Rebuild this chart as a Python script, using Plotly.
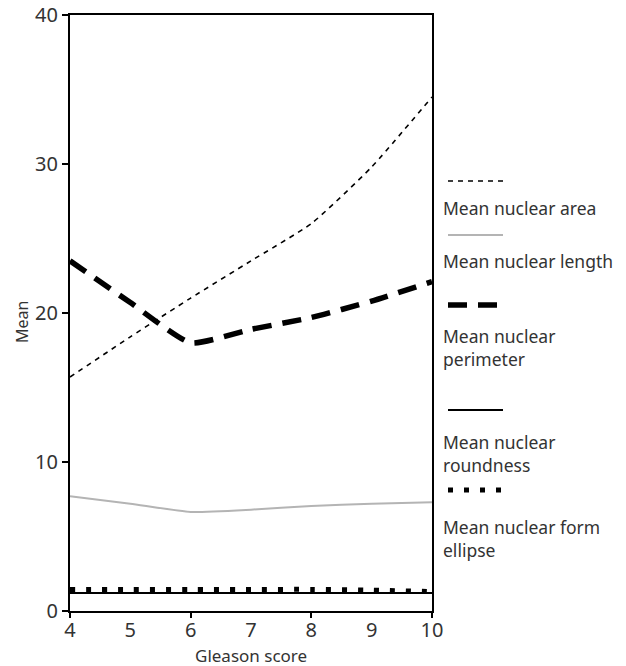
import plotly.graph_objects as go

gleason = [4, 5, 6, 7, 8, 9, 10]
area = [15.7, 18.4, 21.0, 23.5, 26.0, 29.8, 34.5]
length = [7.7, 7.2, 6.65, 6.8, 7.05, 7.2, 7.3]
perimeter = [23.5, 20.7, 18.0, 18.9, 19.7, 20.8, 22.1]
roundness = [1.2, 1.2, 1.2, 1.2, 1.2, 1.2, 1.2]
form_ellipse = [1.45, 1.45, 1.45, 1.45, 1.45, 1.4, 1.3]

x_ticks = [4, 5, 6, 7, 8, 9, 10]
x_marks = [4, 6, 8, 10]
y_ticks = [0, 10, 20, 30, 40]

names = ["Mean nuclear area", "Mean nuclear length", "Mean nuclear<br>perimeter",
         "Mean nuclear<br>roundness", "Mean nuclear form<br>ellipse"]
styles = [
    dict(color="black", width=1.6, dash="5px,5px"),
    dict(color="#b4b4b4", width=2),
    dict(color="black", width=5.5, dash="19px,11px"),
    dict(color="black", width=2),
    dict(color="black", width=5, dash="5px,11px"),
]
series = [area, length, perimeter, roundness, form_ellipse]

FONT = "Noto Sans"
TXT = "#333"
fig = go.Figure()
for s, st, n in zip(series, styles, names):
    fig.add_trace(go.Scatter(x=gleason, y=s, mode="lines", line=dict(shape="spline", smoothing=0.5, **st),
                             name=n, showlegend=False, hoverinfo="skip"))

# invisible trace for secondary tick-mark axis
fig.add_trace(go.Scatter(x=gleason, y=roundness, xaxis="x2", mode="lines",
                         line=dict(width=0), showlegend=False, hoverinfo="skip"))

# custom legend: sample line above text
W, H = 626, 666
l, r, t, b = 70, 194, 15, 55
pw, ph = W - l - r, H - t - b
def px(x): return (x - l) / pw
def py(y): return (H - b - y) / ph

leg_line_y = [181, 235, 305, 410, 490]
leg_text_y = [208, 261, 347, 453, 538]
shapes = []
annotations = []
for st, ly, ty, n in zip(styles, leg_line_y, leg_text_y, names):
    shapes.append(dict(type="line", xref="paper", yref="paper", x0=px(448), x1=px(503),
                       y0=py(ly), y1=py(ly), line=st))
    annotations.append(dict(xref="paper", yref="paper", x=px(441), y=py(ty), text=n,
                            showarrow=False, xanchor="left", yanchor="middle", align="left",
                            font=dict(family=FONT, size=17.5, color=TXT)))

annotations.append(dict(xref="paper", yref="paper", x=px(251), y=py(655), text="Gleason score",
                        showarrow=False, xanchor="center", yanchor="middle",
                        font=dict(family=FONT, size=17, color=TXT)))
annotations.append(dict(xref="paper", yref="paper", x=px(22), y=py(322), text="Mean", textangle=-90,
                        showarrow=False, xanchor="center", yanchor="middle",
                        font=dict(family=FONT, size=16, color=TXT)))

fig.update_layout(
    width=W, height=H, margin=dict(l=l, r=r, t=t, b=b),
    plot_bgcolor="white", paper_bgcolor="white",
    shapes=shapes, annotations=annotations,
    xaxis=dict(range=[4, 10], tickvals=x_ticks, ticks="", showgrid=False, zeroline=False,
               showline=True, linecolor="black", linewidth=2, mirror=True, automargin=False,
               tickfont=dict(family=FONT, size=20, color=TXT)),
    xaxis2=dict(range=[4, 10], overlaying="x", side="bottom", tickvals=x_marks, ticks="outside",
                ticklen=6, tickwidth=2, tickcolor="black", showticklabels=False, showgrid=False,
                zeroline=False, showline=False, anchor="y", automargin=False),
    yaxis=dict(range=[0, 40], tickvals=y_ticks, ticks="outside", ticklen=6, tickwidth=2,
               tickcolor="black", showgrid=False, zeroline=False, showline=True,
               linecolor="black", linewidth=2, mirror=True, automargin=False,
               tickfont=dict(family=FONT, size=20, color=TXT)),
)
fig.write_html("out.html", config={"displayModeBar": False},
               post_script="document.body.style.margin='0';")
